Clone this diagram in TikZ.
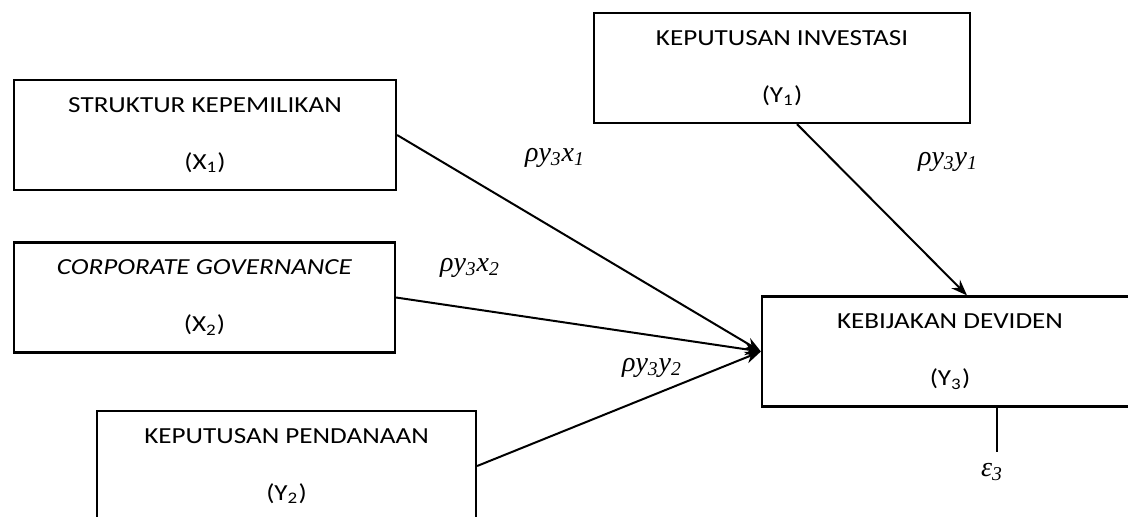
\documentclass[tikz,border=0pt]{standalone}
\usepackage{fontspec}
\usepackage{graphicx}
\setmainfont{Carlito}
\newfontfamily\labfont{Liberation Serif}
\newcommand{\wide}[1]{\scalebox{1.18}[1]{#1}}
\usetikzlibrary{arrows.meta}
\tikzset{
  box/.style={draw, line width=1.1pt, minimum height=55pt, inner sep=0pt, align=center,
    font=\fontsize{11.5}{15}\selectfont},
  conn/.style={line width=1pt, -{Stealth[length=8pt,width=6pt]}},
  lab/.style={font=\labfont\itshape\fontsize{14}{16}\selectfont, inner sep=0pt}
}
\begin{document}
\begin{tikzpicture}[x=0.5pt,y=-0.5pt]
\useasboundingbox (0,0) rectangle (1128,516);
\clip (0,0) rectangle (1128,516);
\fill[white] (0,0) rectangle (1128,516);
\node[box, minimum width=191pt] (X1) at (205,135) {\wide{STRUKTUR KEPEMILIKAN}\\[13.5pt]\wide{(X\textsubscript{1})}};
\node[box, minimum width=190.5pt] (X2) at (204.5,297.5) {\wide{\textit{CORPORATE GOVERNANCE}}\\[13.5pt]\wide{(X\textsubscript{2})}};
\node[box, minimum width=188pt] (Y1) at (782,68) {\wide{KEPUTUSAN INVESTASI}\\[13.5pt]\wide{(Y\textsubscript{1})}};
\node[box, minimum width=189.5pt] (Y2) at (286.5,466) {\wide{KEPUTUSAN PENDANAAN}\\[13.5pt]\wide{(Y\textsubscript{2})}};
\node[box, minimum width=188pt] (Y3) at (950,351.5) {\wide{KEBIJAKAN DEVIDEN}\\[13.5pt]\wide{(Y\textsubscript{3})}};
\draw[conn] (X1.east) -- (Y3.west);
\draw[conn] (X2.east) -- (Y3.west);
\draw[conn] (Y2.east) -- (Y3.west);
\draw[conn] ([xshift=7.5pt]Y1.south) -- ([xshift=8.5pt]Y3.north);
\coordinate (e3) at (997,452);
\draw[line width=1pt] ([xshift=23.5pt]Y3.south) -- (e3);
\node[lab] (l1) at (555,158) {ρy\textsubscript{3}x\textsubscript{1}};
\node[lab] (l2) at (470,268) {ρy\textsubscript{3}x\textsubscript{2}};
\node[lab] (l3) at (652,368) {ρy\textsubscript{3}y\textsubscript{2}};
\node[lab] (l4) at (948,162) {ρy\textsubscript{3}y\textsubscript{1}};
\node[lab] (eps) at (992,472) {ε\textsubscript{3}};
\end{tikzpicture}
\end{document}
